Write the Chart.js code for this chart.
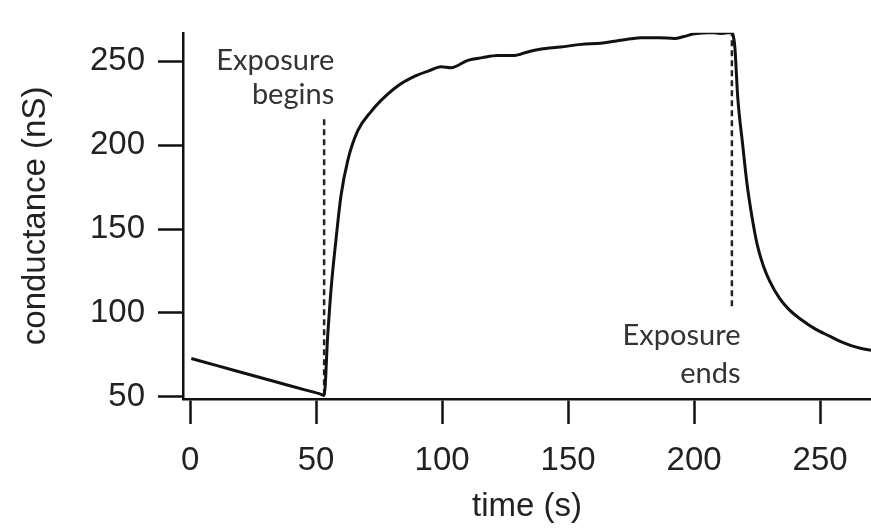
<!DOCTYPE html>
<html>
<head>
<meta charset="utf-8">
<script src="https://cdn.jsdelivr.net/npm/chart.js@4"></script>
<style>
html,body{margin:0;padding:0;background:#fff;}
#wrap{width:871px;height:528px;position:relative;}
</style>
</head>
<body>
<div id="wrap"><canvas id="c" width="871" height="528"></canvas></div>
<script>
// ---- data ----
const timeS = [0.5, 10, 22, 35, 46, 52, 53.2, 54.6, 56, 57.9, 59.9, 62.6, 66.5, 71.8, 75.8, 82.4, 89, 95, 99.6, 103.6, 110.2, 116, 122, 128.7, 134, 139.3, 147, 155.2, 163, 168.4, 175, 179, 186, 192.2, 196, 200.1, 206.7, 210.7, 214.7, 215.4, 216.2, 217.3, 219.3, 221, 223, 225, 227.5, 230, 234, 238, 243, 248, 254, 258, 262.3, 266, 270.6];
const conductance = [72.8, 68.9, 63.9, 58.5, 54.0, 51.5, 50.8, 86, 115, 143.6, 170, 191, 208.5, 220, 226.7, 235.3, 241, 244.5, 246.8, 246.2, 250.6, 252.2, 253.4, 253.5, 255.6, 257.3, 258.5, 260.1, 260.8, 262, 263.4, 264, 264.1, 263.6, 264.8, 266.4, 267.2, 266.6, 267.2, 266, 258, 229, 200, 177, 157, 141, 128, 119, 108.5, 101.5, 95.5, 90.5, 86, 83, 80.5, 79, 77.7];

const xTicks = [0, 50, 100, 150, 200, 250];
const yTicks = [50, 100, 150, 200, 250];

// dashed marker lines: [time, fromValue, toValue]
const beginMarker = [53.2, 51, 216];
const endMarker = [215, 104, 266];

// annotation texts: [text, time (right edge), value (baseline)]
const beginLabel = [["Exposure", 57.2, 244.7], ["begins", 57.2, 224.6]];
const endLabel = [["Exposure", 218.4, 80.8], ["ends", 218.4, 58.4]];

const points = timeS.map((t, i) => ({x: t, y: conductance[i]}));

const textPlugin = {
  id: 'annoText',
  afterDatasetsDraw(chart) {
    const ctx = chart.ctx;
    const xs = chart.scales.x, ys = chart.scales.y;
    ctx.save();
    ctx.font = '29px Lato';
    ctx.fillStyle = '#333';
    ctx.textAlign = 'right';
    ctx.textBaseline = 'alphabetic';
    [...beginLabel, ...endLabel].forEach(([txt, t, v]) => {
      ctx.fillText(txt, xs.getPixelForValue(t), ys.getPixelForValue(v));
    });
    ctx.restore();
  }
};

const axisFont = {family: 'Liberation Sans, Arial, sans-serif', size: 33};

new Chart(document.getElementById('c'), {
  type: 'line',
  data: {
    datasets: [
      {
        data: points,
        borderColor: '#111',
        borderWidth: 3,
        pointRadius: 0,
        fill: false,
        cubicInterpolationMode: 'monotone',
        order: 1
      },
      {
        data: [{x: beginMarker[0], y: beginMarker[1]}, {x: beginMarker[0], y: beginMarker[2]}],
        borderColor: '#222',
        borderWidth: 2.5,
        borderDash: [6, 4],
        pointRadius: 0,
        order: 2
      },
      {
        data: [{x: endMarker[0], y: endMarker[1]}, {x: endMarker[0], y: endMarker[2]}],
        borderColor: '#222',
        borderWidth: 2.5,
        borderDash: [6, 4],
        pointRadius: 0,
        order: 2
      }
    ]
  },
  options: {
    responsive: false,
    animation: false,
    devicePixelRatio: 1,
    layout: {padding: {top: 18, right: 0, left: 0, bottom: 0}},
    plugins: {legend: {display: false}, tooltip: {enabled: false}},
    scales: {
      x: {
        type: 'linear',
        min: -2.8,
        max: 270.2,
        afterBuildTicks: s => { s.ticks = xTicks.map(v => ({value: v})); },
        afterFit: s => { s.height = 129; },
        grid: {display: true, drawOnChartArea: false, drawTicks: true, tickLength: 25, tickWidth: 2.5, tickColor: '#111', color: '#111'},
        border: {display: true, color: '#111', width: 2.5},
        ticks: {color: '#222', font: axisFont, padding: 17, maxRotation: 0, autoSkip: false},
        title: {display: true, text: 'time (s)', color: '#222', font: axisFont, padding: {top: 0, bottom: 1}}
      },
      y: {
        type: 'linear',
        min: 48.7,
        max: 267.0,
        afterBuildTicks: s => { s.ticks = yTicks.map(v => ({value: v})); },
        afterFit: s => { s.width = 183; },
        grid: {display: true, drawOnChartArea: false, drawTicks: true, tickLength: 25, tickWidth: 2.5, tickColor: '#111', color: '#111'},
        border: {display: true, color: '#111', width: 2.5},
        ticks: {color: '#222', font: axisFont, padding: 13, autoSkip: false},
        title: {display: true, text: 'conductance (nS)', color: '#222', font: axisFont, padding: {top: 16, bottom: 0}}
      }
    }
  },
  plugins: [textPlugin]
});
</script>
</body>
</html>
